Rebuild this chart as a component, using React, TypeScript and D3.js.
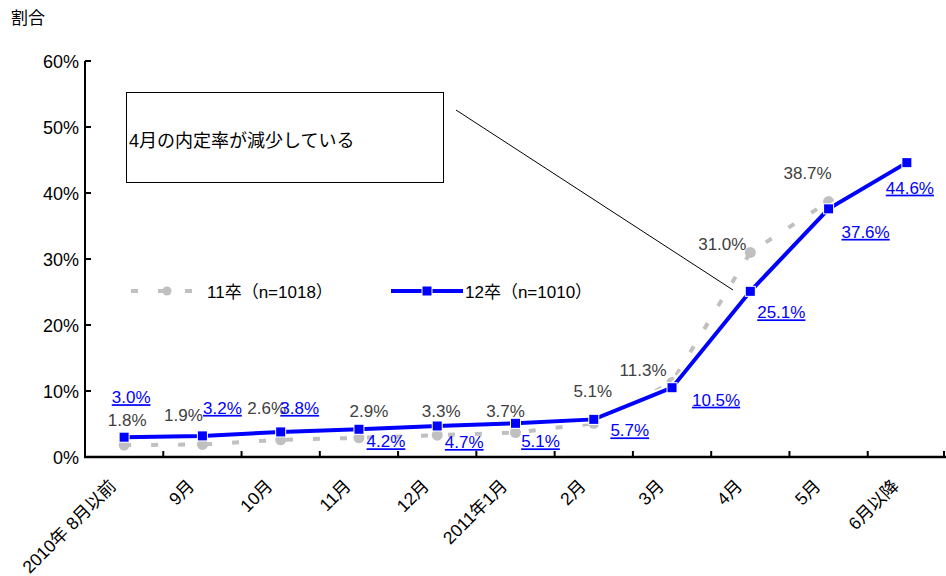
import React from "react";
import * as d3 from "d3";

// Monthly cumulative share, two graduating cohorts
const categories = [
  "2010年 8月以前",
  "9月",
  "10月",
  "11月",
  "12月",
  "2011年1月",
  "2月",
  "3月",
  "4月",
  "5月",
  "6月以降",
];
const cohort11 = [1.8, 1.9, 2.6, 2.9, 3.3, 3.7, 5.1, 11.3, 31.0, 38.7];
const cohort12 = [3.0, 3.2, 3.8, 4.2, 4.7, 5.1, 5.7, 10.5, 25.1, 37.6, 44.6];
const yTickValues = [0, 10, 20, 30, 40, 50, 60];
const legendNames = ["11卒（n=1018）", "12卒（n=1010）"];
const yTitle = "割合";
const noteText = "4月の内定率が減少している";

// Label nudges (px) relative to each point, for readability
const nudge11: [number, number][] = [
  [3, -25], [-19, -29], [-14, -32], [10, -27], [4, -24],
  [-10, -22], [-1, -32], [-29, -12], [-28, -8], [-21, -29],
];
const nudge12: [number, number][] = [
  [7, -40], [20, -28], [19, -24], [27, 12], [27, 16],
  [25, 18], [36, 11], [44, 12], [31, 21], [37, 23], [3, 25],
];

const W = 946;
const H = 576;
const FONT = '"Liberation Sans", Arial, "Noto Sans CJK JP", sans-serif';
const BLUE = "#0000FF";
const GREY = "#C0C0C0";
const LABEL_GREY = "#404040";

export default function App() {
  const x = d3.scaleBand<string>().domain(categories).range([85, 946]);
  const y = d3.scaleLinear().domain([0, 60]).range([457, 61]);
  const cx = (i: number) => (x(categories[i]) as number) + x.bandwidth() / 2;
  const line = d3
    .line<number>()
    .x((_, i) => cx(i))
    .y((d) => y(d));
  const fmt = (v: number) => d3.format(".1f")(v) + "%";
  const boundaries = categories.map((c) => (x(c) as number) + x.bandwidth());

  return (
    <svg
      width={W}
      height={H}
      style={{ position: "absolute", left: 0, top: 0, background: "#fff" }}
      fontFamily={FONT}
    >
      <rect x={0} y={0} width={W} height={H} fill="#fff" />
      {/* axis title */}
      <text x={11} y={24} fontSize={17} fill="#000">
        {yTitle}
      </text>

      {/* y axis */}
      <line x1={85} x2={85} y1={y(60)} y2={y(0)} stroke="#000" strokeWidth={2} />
      {yTickValues.map((t) => (
        <g key={t}>
          <line x1={85} x2={91} y1={y(t)} y2={y(t)} stroke="#000" strokeWidth={2} />
          <text
            x={79}
            y={y(t) + 6.5}
            fontSize={18}
            textAnchor="end"
            fill="#000"
          >
            {t + "%"}
          </text>
        </g>
      ))}

      {/* x axis */}
      <line x1={84} x2={946} y1={y(0)} y2={y(0)} stroke="#000" strokeWidth={2.5} />
      {boundaries.map((b, i) => (
        <line
          key={i}
          x1={Math.min(b, 944)}
          x2={Math.min(b, 944)}
          y1={y(0) - 6}
          y2={y(0)}
          stroke="#000"
          strokeWidth={2}
        />
      ))}
      {categories.map((c, i) => (
        <text
          key={c}
          transform={`translate(${cx(i) - 7},${487}) rotate(-45)`}
          fontSize={17.5}
          textAnchor="end"
          fill="#000"
        >
          {c}
        </text>
      ))}

      {/* 11卒 series */}
      <path
        d={line(cohort11) as string}
        fill="none"
        stroke={GREY}
        strokeWidth={4}
        strokeDasharray="7 20"
      />
      {cohort11.map((v, i) => (
        <circle key={i} cx={cx(i)} cy={y(v)} r={5.5} fill={GREY} />
      ))}

      {/* 12卒 series */}
      <path
        d={line(cohort12) as string}
        fill="none"
        stroke="#fff"
        strokeWidth={8}
      />
      <path d={line(cohort12) as string} fill="none" stroke={BLUE} strokeWidth={4} />
      {cohort12.map((v, i) => (
        <rect
          key={i}
          x={cx(i) - 4.5}
          y={y(v) - 4.5}
          width={9}
          height={9}
          fill={BLUE}
          stroke="#fff"
          strokeWidth={2}
          paintOrder="stroke"
        />
      ))}

      {/* value labels */}
      {cohort11.map((v, i) => (
        <text
          key={"l11" + i}
          x={cx(i) + nudge11[i][0]}
          y={y(v) + nudge11[i][1] + 6}
          fontSize={17}
          textAnchor="middle"
          fill={LABEL_GREY}
        >
          {fmt(v)}
        </text>
      ))}
      {cohort12.map((v, i) => (
        <text
          key={"l12" + i}
          x={cx(i) + nudge12[i][0]}
          y={y(v) + nudge12[i][1] + 6}
          fontSize={17}
          textAnchor="middle"
          fill={BLUE}
          textDecoration="underline"
        >
          {fmt(v)}
        </text>
      ))}

      {/* legend */}
      <g>
        <line
          x1={131}
          x2={193}
          y1={291}
          y2={291}
          stroke={GREY}
          strokeWidth={4}
          strokeDasharray="7 20"
        />
        <circle cx={167} cy={291} r={4.5} fill={GREY} />
        <text x={207} y={297.5} fontSize={17} fill="#000">
          {legendNames[0]}
        </text>
        <line x1={391} x2={463} y1={291} y2={291} stroke="#fff" strokeWidth={8} />
        <line x1={391} x2={463} y1={291} y2={291} stroke={BLUE} strokeWidth={4} />
        <rect
          x={427 - 4.5}
          y={291 - 4.5}
          width={9}
          height={9}
          fill={BLUE}
          stroke="#fff"
          strokeWidth={2}
          paintOrder="stroke"
        />
        <text x={465} y={297.5} fontSize={17} fill="#000">
          {legendNames[1]}
        </text>
      </g>

      {/* callout */}
      <rect x={126.5} y={92.5} width={317} height={90} fill="#fff" stroke="#000" strokeWidth={1} />
      <text x={129} y={147} fontSize={18} fill="#000">
        {noteText}
      </text>
      <line x1={456} y1={110} x2={733} y2={290} stroke="#000" strokeWidth={1} />
    </svg>
  );
}
